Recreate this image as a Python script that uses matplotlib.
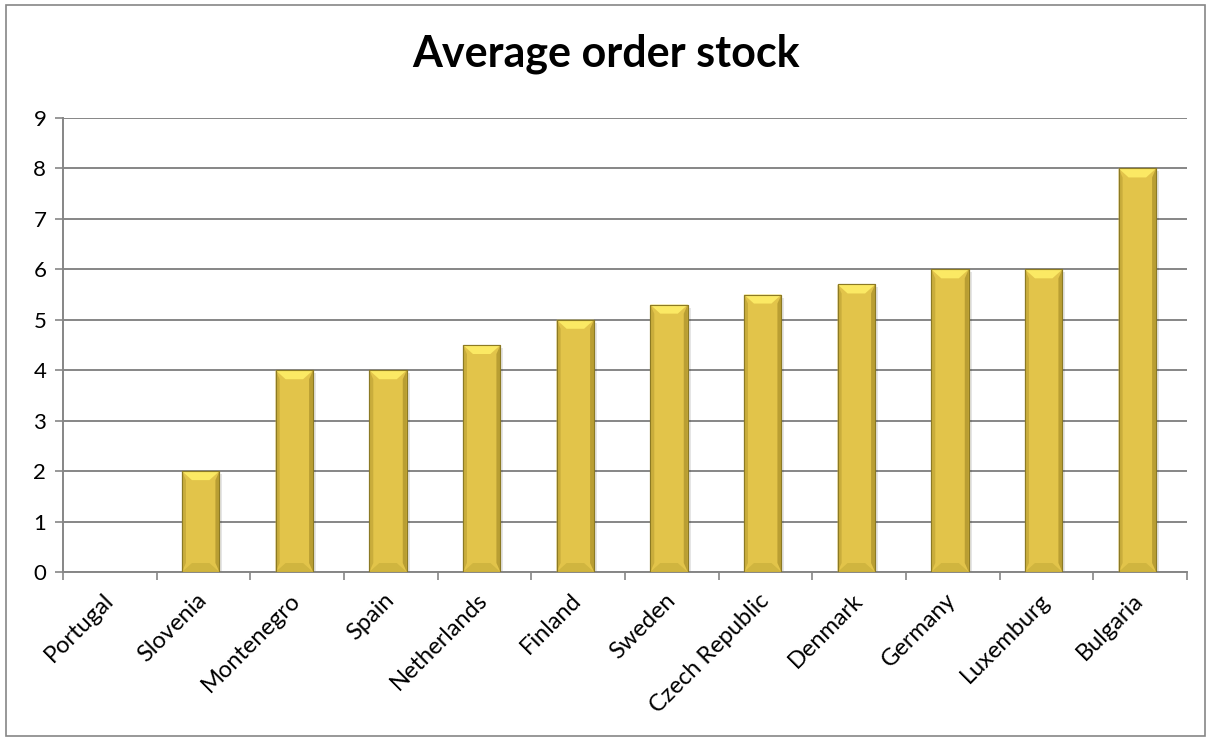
import matplotlib
matplotlib.use("Agg")
import matplotlib.pyplot as plt
from matplotlib.patches import Polygon, Rectangle
import numpy as np

countries = ["Portugal", "Slovenia", "Montenegro", "Spain", "Netherlands", "Finland",
             "Sweden", "Czech Republic", "Denmark", "Germany", "Luxemburg", "Bulgaria"]
order_stock = [0, 2, 4, 4, 4.5, 5, 5.3, 5.5, 5.7, 6, 6, 8]
y_ticks = [0, 1, 2, 3, 4, 5, 6, 7, 8, 9]

plt.rcParams["font.family"] = ["Lato", "DejaVu Sans"]

fig = plt.figure(figsize=(12.12, 7.4), dpi=100)
ax = fig.add_axes([63 / 1212, 1 - 572 / 740, (1187 - 63) / 1212, (572 - 118) / 740])

# Outer chart frame
fig.patches.append(Rectangle((6 / 1212, 4 / 740), 1199 / 1212, 731 / 740,
                             transform=fig.transFigure, fill=False,
                             edgecolor="#868686", linewidth=1.2))

x = np.arange(len(countries))
width = 0.4
face = "#E2C44A"

ax.set_xlim(-0.5, len(countries) - 0.5)
ax.set_ylim(0, 9)

# Bevel sizes in data units
px_x = 1 / ((1187 - 63) / len(countries))
px_y = 1 / ((572 - 118) / 9)
bx = 10 * px_x
by = 9 * px_y
sx = 4 * px_x

for xi, v in zip(x, order_stock):
    if v <= 0:
        continue
    l, r = xi - width / 2 - 0.03, xi + width / 2 - 0.03
    # soft shadow
    ax.add_patch(Rectangle((l + 3 * px_x, -3 * px_y), width, v, facecolor="#000000",
                           alpha=0.10, linewidth=0, zorder=2))
    ax.add_patch(Rectangle((l, 0), width, v, facecolor=face,
                           edgecolor="#8C7A24", linewidth=0.8, zorder=3))
    # top bevel (bright)
    ax.add_patch(Polygon([(l, v), (r, v), (r - bx, v - by), (l + bx, v - by)],
                         closed=True, facecolor="#FBE964", linewidth=0, zorder=4))
    # left bevel
    ax.add_patch(Polygon([(l, v), (l + sx, v - by), (l + sx, by), (l, 0)],
                         closed=True, facecolor="#C9AD3C", linewidth=0, zorder=4))
    # right bevel
    ax.add_patch(Polygon([(r, v), (r - sx, v - by), (r - sx, by), (r, 0)],
                         closed=True, facecolor="#B99E33", linewidth=0, zorder=4))
    # bottom bevel
    ax.add_patch(Polygon([(l, 0), (r, 0), (r - bx, by), (l + bx, by)],
                         closed=True, facecolor="#D0B53F", linewidth=0, zorder=4))
    ax.add_patch(Rectangle((l, 0), width, v, fill=False,
                           edgecolor="#8C7A24", linewidth=0.8, zorder=5))

ax.set_yticks(y_ticks)
ax.set_yticklabels([str(t) for t in y_ticks], fontsize=16)
ax.yaxis.grid(True, color="#868686", linewidth=1.4, zorder=0)
ax.set_axisbelow(True)

ax.set_xticks(x)
ax.set_xticklabels(countries, rotation=45, ha="right", va="center",
                   rotation_mode="anchor", fontsize=17)
ax.tick_params(axis="x", which="major", length=0, pad=18)
ax.set_xticks(np.arange(-0.5, len(countries)), minor=True)
ax.tick_params(axis="x", which="minor", length=6, color="#868686", width=1.2)
ax.tick_params(axis="y", length=6, color="#868686", width=1.2, pad=6)

for s in ["top", "right"]:
    ax.spines[s].set_visible(False)
for s in ["left", "bottom"]:
    ax.spines[s].set_color("#868686")
    ax.spines[s].set_linewidth(1.4)

fig.text(0.5, 1 - 54 / 740, "Average order stock", ha="center", va="center",
         fontsize=31, fontweight="bold")

fig.savefig("out.png", dpi=100)
